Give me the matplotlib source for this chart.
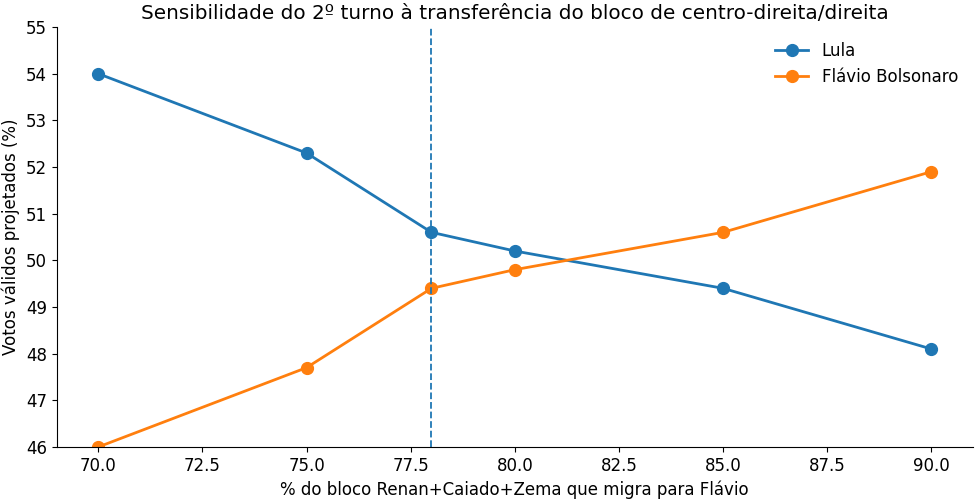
import matplotlib
matplotlib.use("Agg")
import matplotlib.pyplot as plt

transfer = [70, 75, 78, 80, 85, 90]
lula = [54.0, 52.3, 50.6, 50.2, 49.4, 48.1]
flavio = [46.0, 47.7, 49.4, 49.8, 50.6, 51.9]
base_scenario = 78

fig, ax = plt.subplots(figsize=(9.75, 5.0), dpi=100)
ax.plot(transfer, lula, marker="o", color="#1f77b4", linewidth=2, markersize=8.5, label="Lula")
ax.plot(transfer, flavio, marker="o", color="#ff7f0e", linewidth=2, markersize=8.5, label="Flávio Bolsonaro")
ax.axvline(base_scenario, color="#1f77b4", linestyle="--", linewidth=1.3)
ax.set_xlim(69, 91)
ax.set_ylim(46, 55)
ax.set_xticks([70, 72.5, 75, 77.5, 80, 82.5, 85, 87.5, 90])
ax.set_yticks(range(46, 56))
ax.tick_params(labelsize=12)
ax.set_title("Sensibilidade do 2º turno à transferência do bloco de centro-direita/direita", fontsize=14.4)
ax.set_xlabel("% do bloco Renan+Caiado+Zema que migra para Flávio", fontsize=12)
ax.set_ylabel("Votos válidos projetados (%)", fontsize=12)
ax.spines["top"].set_visible(False)
ax.spines["right"].set_visible(False)
ax.legend(frameon=False, fontsize=12, loc="upper right")
fig.subplots_adjust(left=0.058, right=0.998, top=0.946, bottom=0.106)
fig.savefig("out.png", dpi=100)
